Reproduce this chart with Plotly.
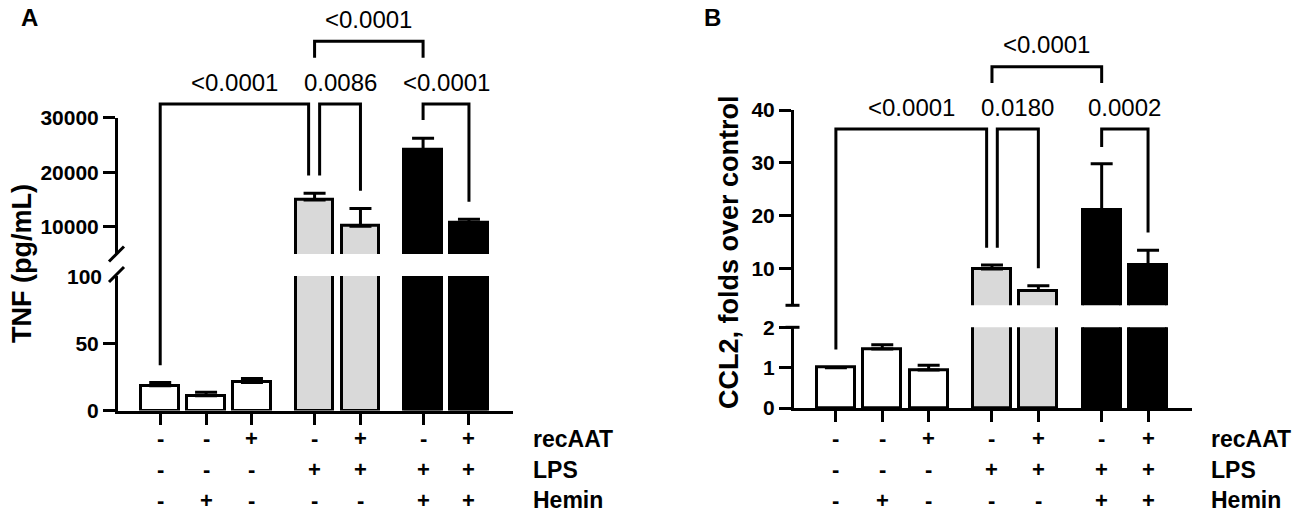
import plotly.graph_objects as go

W, H = 1299, 516

# seven conditions, left to right
rec_aat = ['-', '-', '+', '-', '+', '-', '+']
lps = ['-', '-', '-', '+', '+', '+', '+']
hemin = ['-', '+', '-', '-', '-', '+', '+']
groups = [0, 0, 0, 1, 1, 2, 2]
bar_colors = ['white', 'white', 'white', '#d9d9d9', '#d9d9d9', 'black', 'black']

# panel A: TNF (pg/mL), mean and SEM (upper whisker only)
tnf = [18.4, 11.0, 20.9, 14900, 10100, 24100, 10700]
tnf_sem = [2.5, 2.5, 2.9, 1230, 3250, 2150, 670]

# panel B: CCL2, folds over control
ccl2 = [1.0, 1.46, 0.94, 9.9, 5.8, 21.1, 10.6]
ccl2_sem = [0, 0.11, 0.12, 0.73, 0.89, 8.7, 2.85]

# p values, one per bracket
pvals_a = ['<0.0001', '0.0086', '<0.0001', '<0.0001']
pvals_b = ['<0.0001', '0.0180', '0.0002', '<0.0001']

row_names = ['recAAT', 'LPS', 'Hemin']
rows = [rec_aat, lps, hemin]

# bar positions with a gap between treatment groups
x = [i + 0.365 * g for i, g in enumerate(groups)]

FONT = 'Liberation Sans, Arial, sans-serif'


def fx(px):
    return px / W


def fy(px):
    return 1 - px / H


def seg_y(v, seg):
    # value on a broken-axis segment -> paper y
    b, t, v0, v1 = seg
    return fy(b + (t - b) * (v - v0) / (v1 - v0))


panels = [
    dict(xa='x', ya_lo='y', ya_up='y2', xpx=(118, 513), xr=(-0.92, 7.69),
         lo=(410.5, 276, 0, 100), up=(254, 117.7, 5000, 30000),
         lo_ticks=[0, 50], up_ticks=[10000, 20000, 30000],
         vals=tnf, err=tnf_sem, title='TNF (pg/mL)', title_px=(22, 264),
         letter='A', letter_px=(29, 17), brk='slash', label_x=531,
         # (left bar, right bar, left offset, right offset, level, left end, right end)
         brackets=[(0, 3, 0, -0.13, 32500, ('lo', 33.6), ('up', 19400)),
                   (3, 4, 0.11, 0, 32500, ('up', 19400), ('up', 16600)),
                   (5, 6, 0, 0, 32500, ('up', 29600), ('up', 14600)),
                   (3, 5, 0, 0, 44000, ('up', 41000), ('up', 41000))],
         pvals=pvals_a),
    dict(xa='x2', ya_lo='y3', ya_up='y4', xpx=(794, 1191.7), xr=(-0.903, 7.671),
         lo=(408, 327.3, 0, 2), up=(305.3, 110, 3, 40),
         lo_ticks=[0, 1, 2], up_ticks=[10, 20, 30, 40],
         vals=ccl2, err=ccl2_sem, title='CCL2, folds over control', title_px=(729, 252),
         letter='B', letter_px=(712, 17), brk='cap', label_x=1209,
         brackets=[(0, 3, 0, -0.115, 36.4, ('lo', 1.45), ('up', 13.9)),
                   (3, 4, 0.115, 0, 36.4, ('up', 13.9), ('up', 10.0)),
                   (5, 6, 0, 0, 36.4, ('up', 33.0), ('up', 16.8)),
                   (3, 5, 0, 0, 48.2, ('up', 45.1), ('up', 45.1))],
         pvals=pvals_b),
]

fig = go.Figure()
shapes = []
annotations = []
layout_axes = {}

for p in panels:
    # same bars on the lower and the upper segment, each clipped by its own range
    for ya in (p['ya_lo'], p['ya_up']):
        fig.add_trace(go.Bar(
            x=x, y=p['vals'], xaxis=p['xa'], yaxis=ya, width=0.82,
            marker=dict(color=bar_colors, line=dict(color='black', width=3)),
            error_y=dict(type='data', symmetric=False, array=p['err'],
                         arrayminus=[0] * 7, color='black', thickness=3, width=11),
            showlegend=False, hoverinfo='skip'))

    xname = 'xaxis' + p['xa'][1:]
    layout_axes[xname] = dict(
        domain=[fx(p['xpx'][0]), fx(p['xpx'][1])], range=list(p['xr']),
        anchor=p['ya_lo'], showline=True, linecolor='black', linewidth=3,
        ticks='outside', tickvals=x, ticklen=11, tickwidth=3, tickcolor='black',
        showticklabels=False, showgrid=False, zeroline=False, fixedrange=True,
        automargin=False)

    for ya, seg, tv in ((p['ya_lo'], p['lo'], p['lo_ticks']),
                        (p['ya_up'], p['up'], p['up_ticks'])):
        yname = 'yaxis' + ya[1:]
        layout_axes[yname] = dict(
            domain=[fy(seg[0]), fy(seg[1])], range=[seg[2], seg[3]],
            anchor=p['xa'], showline=True, linecolor='black', linewidth=3,
            ticks='outside', tickvals=tv, ticktext=[str(v) for v in tv],
            ticklen=12, tickwidth=3, tickcolor='black',
            tickfont=dict(family=FONT, size=21, color='black', weight='bold'),
            showgrid=False, zeroline=False, fixedrange=True, automargin=False)

    # axis break marks
    ax_px = p['xpx'][0] - 1.5
    b_up = p['up'][0]
    t_lo = p['lo'][1]
    if p['brk'] == 'slash':
        for yc in (b_up, t_lo - 1.5):
            shapes.append(dict(type='line', xref='paper', yref='paper',
                               x0=fx(ax_px - 7.5), y0=fy(yc + 7.5),
                               x1=fx(ax_px + 7.5), y1=fy(yc - 7.5),
                               line=dict(color='black', width=3)))
        annotations.append(dict(text='100', xref='paper', yref='paper',
                                x=fx(ax_px - 13), y=fy(t_lo), xanchor='right',
                                yanchor='middle', showarrow=False,
                                font=dict(family=FONT, size=21, color='black',
                                          weight='bold')))
    else:
        for yc in (b_up, t_lo):
            shapes.append(dict(type='line', xref='paper', yref='paper',
                               x0=fx(ax_px - 7), y0=fy(yc), x1=fx(ax_px + 7), y1=fy(yc),
                               line=dict(color='black', width=3)))

    # significance brackets
    for (i, j, dl, dr, level, le, re), label in zip(p['brackets'], p['pvals']):
        xl = x[i] + dl
        xr = x[j] + dr
        ytop = seg_y(level, p['up'])
        yl = seg_y(le[1], p['lo'] if le[0] == 'lo' else p['up'])
        yr = seg_y(re[1], p['lo'] if re[0] == 'lo' else p['up'])
        shapes.append(dict(type='path', xref=p['xa'], yref='paper',
                           path=f'M {xl},{yl} V {ytop} H {xr} V {yr}',
                           line=dict(color='black', width=3)))
        annotations.append(dict(text=label, xref=p['xa'], yref='paper',
                                x=(xl + xr) / 2, y=ytop + 22 / H, xanchor='center',
                                yanchor='middle', showarrow=False,
                                font=dict(family=FONT, size=24, color='black')))

    # +/- table under the axis
    for name, signs, ypx in zip(row_names, rows, (438.5, 469.5, 500)):
        for xi, s in zip(x, signs):
            annotations.append(dict(text=s, xref=p['xa'], yref='paper', x=xi, y=fy(ypx),
                                    xanchor='center', yanchor='middle', showarrow=False,
                                    font=dict(family=FONT, size=22, color='black',
                                              weight='bold')))
        annotations.append(dict(text=name, xref='paper', yref='paper',
                                x=fx(p['label_x']), y=fy(ypx), xanchor='left',
                                yanchor='middle', showarrow=False,
                                font=dict(family=FONT, size=23, color='black',
                                          weight='bold')))

    annotations.append(dict(text=p['title'], xref='paper', yref='paper',
                            x=fx(p['title_px'][0]), y=fy(p['title_px'][1]),
                            textangle=-90, xanchor='center', yanchor='middle',
                            showarrow=False,
                            font=dict(family=FONT, size=27, color='black', weight='bold')))
    annotations.append(dict(text=p['letter'], xref='paper', yref='paper',
                            x=fx(p['letter_px'][0]), y=fy(p['letter_px'][1]),
                            xanchor='center', yanchor='middle', showarrow=False,
                            font=dict(family=FONT, size=24, color='black', weight='bold')))

fig.update_layout(
    width=W, height=H, autosize=False,
    margin=dict(l=0, r=0, t=0, b=0, pad=0, autoexpand=False),
    paper_bgcolor='white', plot_bgcolor='white', showlegend=False,
    bargap=0, shapes=shapes, annotations=annotations,
    **layout_axes)

fig.write_html('out.html', post_script="document.body.style.margin='0';",
               config={'displayModeBar': False})
